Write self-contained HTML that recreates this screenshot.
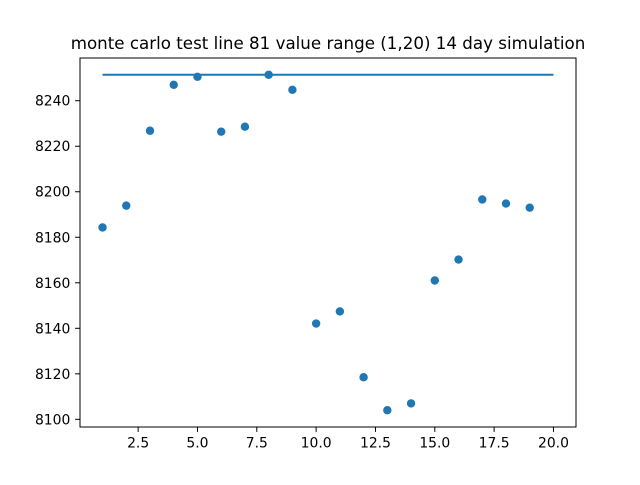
<!DOCTYPE html>
<html><head><meta charset="utf-8"><style>
body{margin:0;background:#fff;font-family:"Liberation Sans","DejaVu Sans",sans-serif}
text{font-family:"DejaVu Sans","Liberation Sans",sans-serif}
</style></head><body>
<svg id="c" width="640" height="480" xmlns="http://www.w3.org/2000/svg"></svg>
<script>
const days = [1,2,3,4,5,6,7,8,9,10,11,12,13,14,15,16,17,18,19];
const values = [8184.3,8193.9,8226.8,8247,8250.5,8226.4,8228.6,8251.4,8244.8,8142.1,8147.4,8118.5,8104,8107,8161,8170.2,8196.6,8194.8,8193];
const lineX = [1,20];
const lineY = [8251.4,8251.4];
const xTicks = [2.5,5.0,7.5,10.0,12.5,15.0,17.5,20.0];
const yTicks = [8100,8120,8140,8160,8180,8200,8220,8240];

const svg = document.getElementById('c');
const NS = 'http://www.w3.org/2000/svg';
const L=80,R=576,T=58,B=427;
const allX = days.concat(lineX), allY = values.concat(lineY);
let xmin=Math.min(...allX), xmax=Math.max(...allX), ymin=Math.min(...allY), ymax=Math.max(...allY);
const xm=(xmax-xmin)*0.05, ym=(ymax-ymin)*0.05;
xmin-=xm; xmax+=xm; ymin-=ym; ymax+=ym;
const sx=v=>L+(v-xmin)/(xmax-xmin)*(R-L);
const sy=v=>B-(v-ymin)/(ymax-ymin)*(B-T);
function mk(tag,attrs,parent){const e=document.createElementNS(NS,tag);for(const k in attrs)e.setAttribute(k,attrs[k]);(parent||svg).appendChild(e);return e;}

const title = mk('text',{x:328,y:49,'text-anchor':'middle','font-size':'16.7',fill:'#000'});


title.textContent='monte carlo test line 81 value range (1,20) 14 day simulation';

const line = mk('polyline',{points:lineX.map((x,i)=>sx(x)+','+sy(lineY[i])).join(' '),fill:'none',stroke:'#1f77b4','stroke-width':2});



days.forEach((d,i)=>{
  const p = mk('circle',{cx:sx(d),cy:sy(values[i]),r:4.2,fill:'#1f77b4'});
  
  
});

const frame = mk('rect',{x:L,y:T,width:R-L,height:B-T,fill:'none',stroke:'#000','stroke-width':1});



xTicks.forEach(t=>{
  const x=sx(t);
  const tk = mk('line',{x1:x,x2:x,y1:B,y2:B+4.9,stroke:'#000','stroke-width':1});
  
  
  const lb = mk('text',{x:x,y:B+20.5,'text-anchor':'middle','font-size':'13.9',fill:'#000'});
  
  
  lb.textContent=t.toFixed(1);
});
yTicks.forEach(t=>{
  const y=sy(t);
  const tk = mk('line',{x1:L-4.9,x2:L,y1:y,y2:y,stroke:'#000','stroke-width':1});
  
  
  const lb = mk('text',{x:L-9.7,y:y+5,'text-anchor':'end','font-size':'13.9',fill:'#000'});
  
  
  lb.textContent=t;
});
</script>
</body></html>
